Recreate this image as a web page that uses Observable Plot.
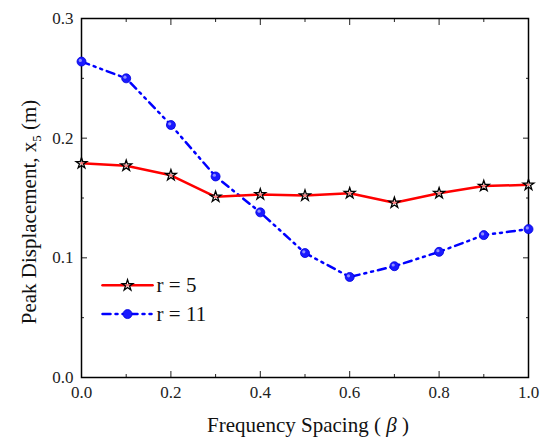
<!DOCTYPE html>
<html><head><meta charset="utf-8">
<script src="https://cdn.jsdelivr.net/npm/d3@7"></script>
<script src="https://cdn.jsdelivr.net/npm/@observablehq/plot@0.6"></script>
<style>body{margin:0;background:#fff} svg, svg text {font-family: "Liberation Serif", "Times New Roman", Times, "DejaVu Serif", serif !important;}</style>
</head><body><div id="chart"></div>
<script>
const beta = [0.0, 0.1, 0.2, 0.3, 0.4, 0.5, 0.6, 0.7, 0.8, 0.9, 1.0];
const r5 = [0.179, 0.177, 0.169, 0.151, 0.153, 0.152, 0.154, 0.146, 0.154, 0.160, 0.161];
const r11 = [0.264, 0.250, 0.211, 0.168, 0.138, 0.104, 0.084, 0.093, 0.105, 0.119, 0.124];
const xTicks = [0, 0.2, 0.4, 0.6, 0.8, 1.0];
const xMinor = [0.1, 0.3, 0.5, 0.7, 0.9];
const yTicks = [0, 0.1, 0.2, 0.3];
const yMinor = [0.05, 0.15, 0.25];
const seriesNames = ["r = 5", "r = 11"];
const xLabelParts = ["Frequency Spacing ( ", "β", " )"];

const d5 = beta.map((b, i) => ({x: b, y: r5[i]}));
const d11 = beta.map((b, i) => ({x: b, y: r11[i]}));
// legend entries in data space
const legendLine = [0.047, 0.159];
const legendY = [0.077, 0.053];
const legendMarkX = 0.103;
const legendTextX = 0.168;

const fmt = d3.format(".1f");
const dash = "8,5,2,5,2,5";

const chart = Plot.plot({
  width: 551, height: 442,
  marginLeft: 81, marginRight: 23, marginTop: 18, marginBottom: 65,
  style: {fontSize: "17px", color: "#222"},
  x: {domain: [0, 1]},
  y: {domain: [0, 0.3]},
  marks: [
    Plot.axisX({anchor: "bottom", ticks: xTicks, tickSize: -6, tickPadding: 14, tickFormat: fmt, label: null, fontSize: 17}),
    Plot.axisX({anchor: "bottom", ticks: xMinor, tickSize: -3, tickFormat: () => "", label: null}),
    Plot.axisX({anchor: "top", ticks: xTicks, tickSize: -6, tickFormat: () => "", label: null}),
    Plot.axisX({anchor: "top", ticks: xMinor, tickSize: -3, tickFormat: () => "", label: null}),
    Plot.axisY({anchor: "left", ticks: yTicks, tickSize: -6, tickPadding: 14, tickFormat: fmt, label: null, fontSize: 17}),
    Plot.axisY({anchor: "left", ticks: yMinor, tickSize: -3, tickFormat: () => "", label: null}),
    Plot.axisY({anchor: "right", ticks: yTicks, tickSize: -6, tickFormat: () => "", label: null}),
    Plot.axisY({anchor: "right", ticks: yMinor, tickSize: -3, tickFormat: () => "", label: null}),
    Plot.frame({stroke: "#000", strokeWidth: 1.5}),
    Plot.line(d11, {x: "x", y: "y", stroke: "#0000ff", strokeWidth: 2.5, strokeDasharray: dash}),
    Plot.dot(d11, {x: "x", y: "y", r: 4.5, fill: "#1a1aff", stroke: "#0000dd", strokeWidth: 0.8}),
    Plot.dot(d11, {x: "x", y: "y", r: 1.6, dx: -1.2, dy: -1.2, fill: "#8f8fff"}),
    Plot.line(d5, {x: "x", y: "y", stroke: "#ff0000", strokeWidth: 2.5}),
    Plot.dot(d5, {x: "x", y: "y", symbol: "star", r: 3.4, fill: "#fff", fillOpacity: 0.5, stroke: "#000", strokeWidth: 1.3}),
    // legend
    Plot.line(legendLine.map(x => ({x, y: legendY[0]})), {x: "x", y: "y", stroke: "#ff0000", strokeWidth: 2.5}),
    Plot.dot([{x: legendMarkX, y: legendY[0]}], {x: "x", y: "y", symbol: "star", r: 3.4, fill: "#fff", fillOpacity: 0.5, stroke: "#000", strokeWidth: 1.3}),
    Plot.line(legendLine.map(x => ({x, y: legendY[1]})), {x: "x", y: "y", stroke: "#0000ff", strokeWidth: 2.5, strokeDasharray: dash}),
    Plot.dot([{x: legendMarkX, y: legendY[1]}], {x: "x", y: "y", r: 4.5, fill: "#1a1aff", stroke: "#0000dd", strokeWidth: 0.8}),
    Plot.text(seriesNames.map((t, i) => ({t, y: legendY[i]})), {x: () => legendTextX, y: "y", text: "t", textAnchor: "start", fontSize: 21, fill: "#111"})
  ]
});

const svg = d3.select(chart);
const xl = svg.append("text")
  .attr("x", 308).attr("y", 432)
  .attr("text-anchor", "middle").attr("font-size", 21).attr("fill", "#111");
xl.append("tspan").text(xLabelParts[0]);
xl.append("tspan").attr("font-style", "italic").text(xLabelParts[1]);
xl.append("tspan").text(xLabelParts[2]);
const yl = svg.append("text")
  .attr("transform", "translate(36,212) rotate(-90)")
  .attr("text-anchor", "middle").attr("font-size", 21).attr("fill", "#111");
yl.append("tspan").text("Peak Displacement, x");
yl.append("tspan").attr("font-size", 13).attr("dy", 5).text("5");
yl.append("tspan").attr("dy", -5).text(" (m)");

document.getElementById("chart").appendChild(chart);
</script>
</body></html>
